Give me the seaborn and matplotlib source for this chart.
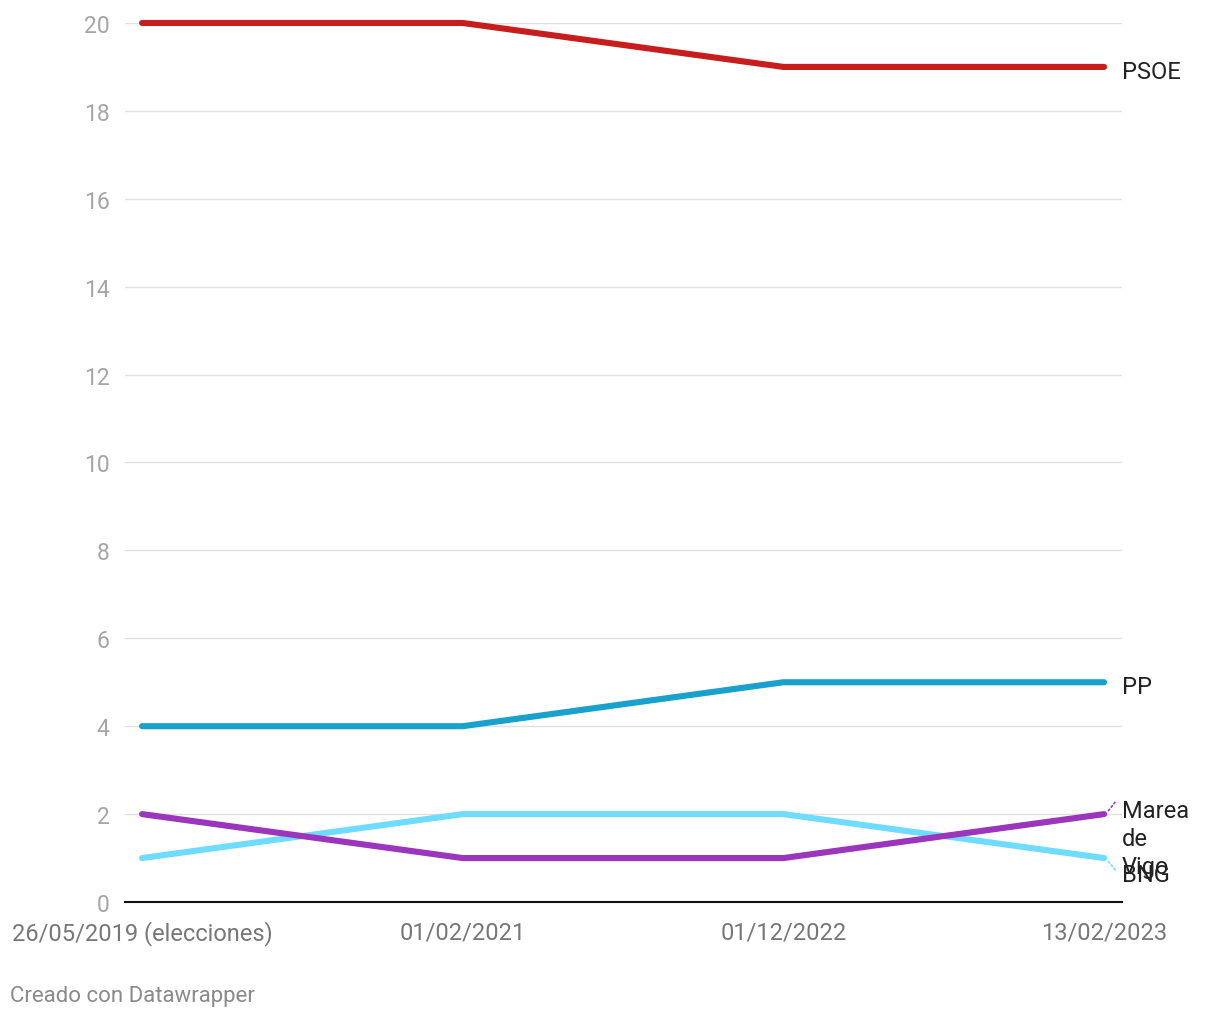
import numpy as np
import pandas as pd
import matplotlib.pyplot as plt
import seaborn as sns

fechas = ['26/05/2019 (elecciones)', '01/02/2021', '01/12/2022', '13/02/2023']
psoe = [20, 20, 19, 19]
pp = [4, 4, 5, 5]
bng = [1, 2, 2, 1]
marea = [2, 1, 1, 2]

partidos = ['PSOE', 'PP', 'BNG', 'Marea de Vigo']
colores = {'PSOE': '#c71e1d', 'PP': '#18a1cd', 'BNG': '#6fdcff', 'Marea de Vigo': '#9b35bb'}

data = pd.DataFrame({
    'fecha': fechas * 4,
    'x': list(range(len(fechas))) * 4,
    'concejales': psoe + pp + bng + marea,
    'partido': [p for p in partidos for _ in fechas],
})

sns.set_style('white')
plt.rcParams['font.family'] = ['Roboto', 'DejaVu Sans']

fig = plt.figure(figsize=(12.2, 10.2), dpi=100)
ax = fig.add_axes([0.1025, 0.1147, 0.8172, 0.8618])

sns.lineplot(data=data, x='x', y='concejales', hue='partido', palette=colores,
             hue_order=['BNG', 'Marea de Vigo', 'PP', 'PSOE'],
             linewidth=4.4, ax=ax, legend=False, sort=False)
for line in ax.get_lines():
    line.set_solid_capstyle('round')
    line.set_clip_on(False)

ax.set_xlim(-0.053, 3.056)
ax.set_ylim(0, 20)
ax.set_yticks(range(0, 21, 2))
ax.set_xticks(range(len(fechas)))
ax.set_xticklabels(fechas)
ax.grid(axis='y', color='#e0e0e0', linewidth=1)
ax.set_axisbelow(True)
for s in ['top', 'right', 'left']:
    ax.spines[s].set_visible(False)
ax.spines['bottom'].set_color('#111111')
ax.spines['bottom'].set_linewidth(1.5)
ax.tick_params(axis='y', length=0, pad=11, labelsize=16.5, labelcolor='#a5a5a5')
ax.tick_params(axis='x', length=0, pad=13, labelsize=17, labelcolor='#777777')
ax.set_xlabel('')
ax.set_ylabel('')

# etiquetas al final de cada linea
ultimo = {'PSOE': psoe[-1], 'PP': pp[-1], 'BNG': bng[-1], 'Marea de Vigo': marea[-1]}
ax.annotate('PSOE', (3, ultimo['PSOE']), xytext=(13, -3), textcoords='offset points',
            fontsize=17, color='#222222', va='center', annotation_clip=False)
ax.annotate('PP', (3, ultimo['PP']), xytext=(13, -3), textcoords='offset points',
            fontsize=17, color='#222222', va='center', annotation_clip=False)
ax.annotate('Marea\nde\nVigo', (3, ultimo['Marea de Vigo']), xytext=(13, 11),
            textcoords='offset points', fontsize=17, color='#222222', va='top',
            linespacing=1.27, annotation_clip=False)
ax.annotate('BNG', (3, ultimo['BNG']), xytext=(13, -12), textcoords='offset points',
            fontsize=17, color='#222222', va='center', annotation_clip=False)
# pequeños conectores punteados
ax.annotate('', (3.005, ultimo['Marea de Vigo']), xytext=(8, 10), textcoords='offset points',
            arrowprops=dict(arrowstyle='-', linestyle=':', color=colores['Marea de Vigo'], lw=1.2),
            annotation_clip=False)
ax.annotate('', (3.005, ultimo['BNG']), xytext=(8, -10), textcoords='offset points',
            arrowprops=dict(arrowstyle='-', linestyle=':', color=colores['BNG'], lw=1.2),
            annotation_clip=False)

fig.text(10 / 1220, 1 - 997 / 1020, 'Creado con Datawrapper', fontsize=16,
         color='#8a8a8a', va='center', ha='left')

fig.savefig('out.png', dpi=100, facecolor='white')
